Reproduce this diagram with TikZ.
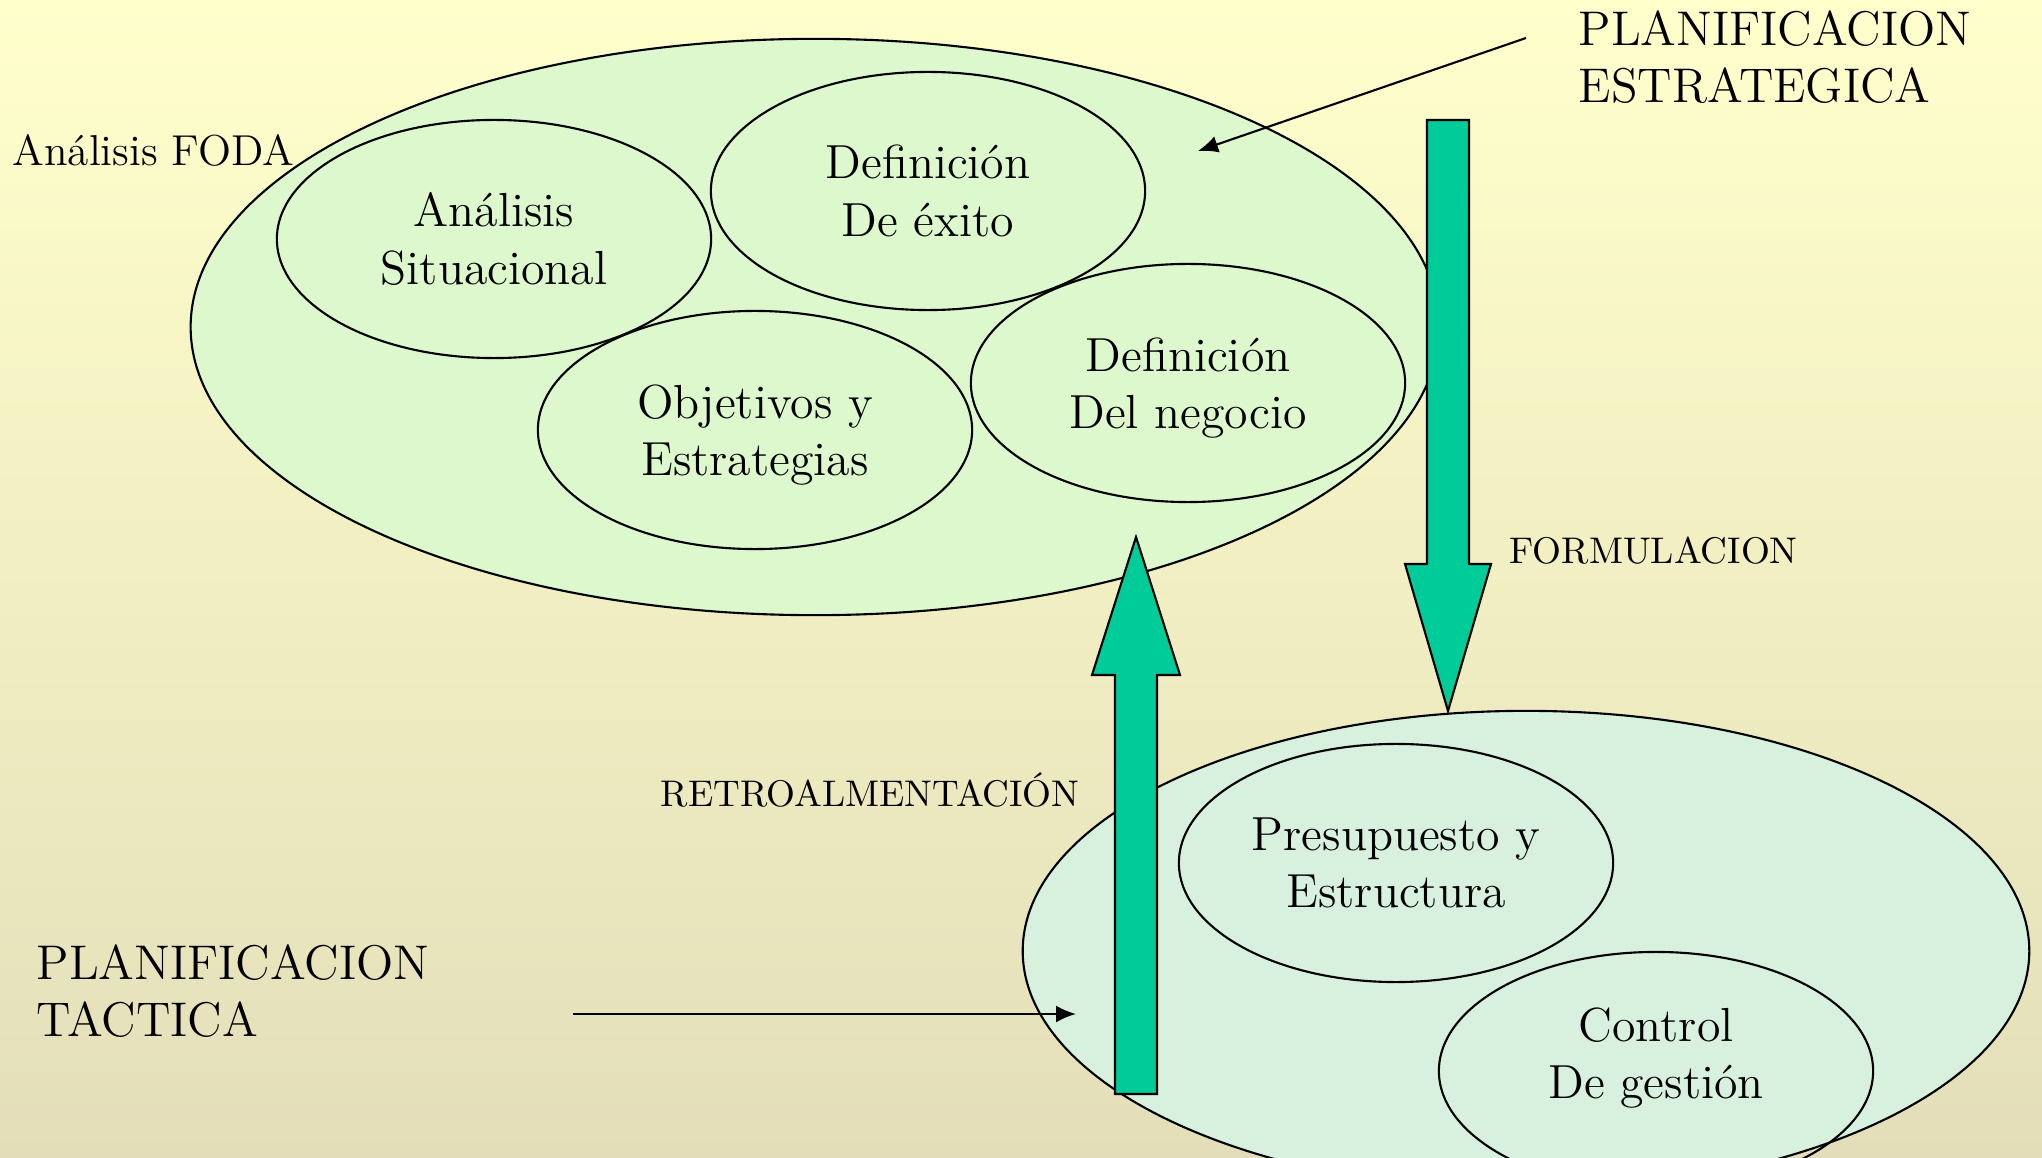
\documentclass[tikz,border=0pt]{standalone}
\usepackage{tikz}
\usetikzlibrary{shapes.geometric,arrows.meta,calc}

\definecolor{paleyellow}{RGB}{255,255,204}
\definecolor{sandbottom}{RGB}{227,222,185}
\definecolor{leafgreen}{RGB}{222,248,205}
\definecolor{mintblue}{RGB}{216,241,222}
\definecolor{seagreen}{RGB}{0,204,153}

\tikzset{
  bubble/.style={draw, ellipse, line width=0.6pt, inner sep=0pt,
    minimum width=4.34cm, minimum height=2.38cm, align=center,
    font=\fontsize{13.6}{16.4}\selectfont},
  bubbletext/.style={align=center, inner sep=0pt,
    font=\fontsize{13.6}{16.4}\selectfont},
  bigtext/.style={anchor=west, align=left, inner sep=0pt,
    font=\fontsize{13.85}{16.4}\selectfont},
  smalltext/.style={anchor=west, inner sep=0pt,
    font=\fontsize{10.55}{12}\selectfont},
  blockarrow/.style={fill=seagreen, draw=black, line width=0.6pt},
  pointer/.style={-{Latex[length=2mm,width=1.7mm]}, line width=0.6pt}
}

\begin{document}
\begin{tikzpicture}[x=0.01cm, y=-0.01cm]
    \useasboundingbox (0,0) rectangle (2042,1158);
    \shade[top color=paleyellow, bottom color=sandbottom] (0,0) rectangle (2042,1158);
    \clip (0,0) rectangle (2042,1158);

    % planificacion estrategica
    \node[bubble, fill=leafgreen, minimum width=12.48cm, minimum height=5.76cm]
      (strat) at (815,327) {};
    \node[bubble] (situ) at (494,239) {Análisis\\Situacional};
    \node[bubble] (exito) at (928,191) {Definición\\De éxito};
    \node[bubble] (obj) at (755,430) {};
    \node[bubbletext] (objtext) at (755,435) {Objetivos y\\Estrategias};
    \node[bubble] (neg) at (1188,383) {};
    \node[bubbletext] (negtext) at (1188,388) {Definición\\Del negocio};

    % planificacion tactica
    \node[bubble, fill=mintblue, minimum width=10.06cm, minimum height=4.8cm]
      (tact) at (1526,951) {};
    \node[bubble] (presu) at (1396,863) {Presupuesto y\\Estructura};
    \node[bubble] (ctrl) at (1656,1071) {};
    \node[bubbletext] (ctrltext) at (1656,1058) {Control\\De gestión};

    \node[smalltext, font=\fontsize{12.3}{14}\selectfont] (foda) at (12,151) {Análisis FODA};
    \node[bigtext] (estlabel) at (1578,57) {PLANIFICACION\\ESTRATEGICA};
    \node[bigtext] (taclabel) at (36,991) {PLANIFICACION\\TACTICA};
    \node[smalltext] (form) at (1509,551) {FORMULACION};
    \node[smalltext] (retro) at (660,790) {RETROALMENTACIÓN};

    \coordinate (estfrom) at (1526,38);
    \coordinate (estto) at (1198,151);
    \coordinate (tacfrom) at (573,1014);
    \coordinate (tacto) at (1076,1014);
    \draw[pointer] (estfrom) -- (estto);
    \draw[pointer] (tacfrom) -- (tacto);

    % formulacion, down
    \coordinate (fbase) at (1448,120);
    \coordinate (ftip) at (1448,711);
    \draw[blockarrow] ($(fbase)+(-21,0)$) -- ($(fbase)+(21,0)$)
      -- ($(ftip)+(21,-147)$) -- ($(ftip)+(43,-147)$) -- (ftip)
      -- ($(ftip)+(-43,-147)$) -- ($(ftip)+(-21,-147)$) -- cycle;

    % retroalimentacion, up
    \coordinate (rbase) at (1136,1094);
    \coordinate (rtip) at (1136,537);
    \draw[blockarrow] ($(rbase)+(-21,0)$) -- ($(rbase)+(21,0)$)
      -- ($(rtip)+(21,138)$) -- ($(rtip)+(44,138)$) -- (rtip)
      -- ($(rtip)+(-44,138)$) -- ($(rtip)+(-21,138)$) -- cycle;
\end{tikzpicture}
\end{document}
